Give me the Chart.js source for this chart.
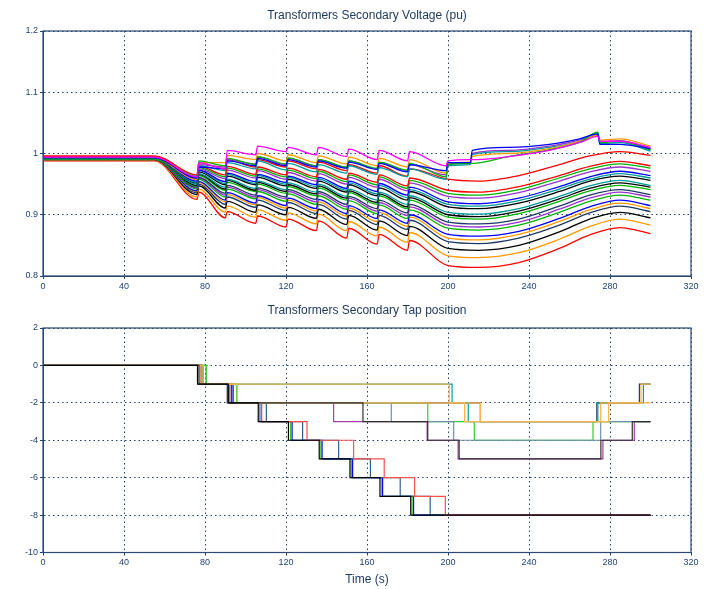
<!DOCTYPE html>
<html><head><meta charset="utf-8">
<script src="https://cdn.jsdelivr.net/npm/chart.js@4.4.0/dist/chart.umd.min.js"></script>
<style>
html,body{margin:0;padding:0;background:#fff;width:715px;height:589px;overflow:hidden}
#c1{position:absolute;left:0;top:0}
#c2{position:absolute;left:0;top:300px}
</style></head><body>
<canvas id="c1" width="715" height="300"></canvas>
<canvas id="c2" width="715" height="289"></canvas>
<script>
// ---------- DATA ----------
const voltTitle = 'Transformers Secondary Voltage (pu)';
const tapTitle = 'Transformers Secondary Tap position';
const xTitle = 'Time (s)';
const vTickLabels = ['0.8','0.9','1','1.1','1.2'];
const tapTickLabels = ['-10','-8','-6','-4','-2','0','2'];
const xTickLabels = ['0','40','80','120','160','200','240','280','320'];

// lower family time grid (s)
const tLow = [0,55,76,77,90,91,105,106,120,121,135,136,150,151,165,166,180,181,200,215,235,255,270,285,300];
const vL1  = [.988,.988,.925,.937,.895,.905,.886,.898,.880,.893,.874,.890,.862,.878,.852,.868,.842,.858,.817,.814,.822,.845,.867,.879,.869];
const vL2  = [.989,.989,.929,.942,.904,.914,.896,.908,.891,.903,.885,.901,.874,.889,.865,.880,.855,.871,.833,.830,.838,.860,.881,.893,.883];
const vL3  = [.990,.990,.933,.947,.911,.922,.904,.916,.900,.912,.894,.909,.884,.899,.875,.890,.866,.881,.845,.842,.850,.872,.893,.904,.895];
const vL4  = [.990,.990,.936,.950,.917,.929,.912,.924,.907,.920,.902,.917,.893,.907,.884,.899,.876,.891,.856,.853,.862,.883,.903,.914,.905];
const vL4b = [.991,.991,.938,.952,.921,.933,.916,.928,.911,.924,.906,.921,.898,.911,.889,.904,.881,.896,.862,.859,.868,.889,.908,.919,.910];
const vL5  = [.991,.991,.939,.954,.924,.936,.919,.931,.915,.927,.910,.925,.902,.915,.894,.908,.886,.900,.868,.865,.873,.894,.913,.924,.915];
const vL6  = [.991,.991,.942,.958,.929,.942,.926,.938,.922,.934,.917,.931,.909,.923,.902,.916,.894,.908,.878,.875,.883,.904,.922,.932,.924];
const vL6b = [.992,.992,.944,.960,.932,.945,.929,.941,.926,.938,.921,.935,.913,.927,.906,.920,.899,.913,.883,.880,.888,.909,.927,.937,.929];
const vL7  = [.992,.992,.945,.961,.935,.948,.932,.944,.929,.941,.925,.938,.917,.930,.910,.924,.903,.917,.888,.885,.893,.914,.932,.941,.933];
const vL8  = [.992,.992,.947,.964,.940,.953,.938,.950,.935,.946,.931,.944,.924,.936,.917,.931,.910,.924,.896,.893,.902,.922,.939,.948,.941];
const vL8b = [.993,.993,.948,.966,.942,.956,.940,.953,.938,.949,.934,.947,.927,.939,.920,.934,.913,.928,.900,.897,.906,.926,.943,.952,.945];
const vL9  = [.993,.993,.950,.967,.945,.958,.943,.955,.941,.952,.937,.950,.930,.942,.924,.937,.917,.931,.904,.901,.910,.930,.947,.956,.948];
const vL10 = [.993,.993,.952,.970,.949,.963,.949,.961,.947,.958,.943,.955,.937,.949,.931,.944,.924,.938,.913,.910,.919,.938,.955,.963,.956];
const vL10b= [.994,.994,.953,.972,.951,.966,.951,.964,.950,.961,.946,.958,.940,.952,.934,.948,.928,.941,.917,.914,.923,.942,.958,.967,.960];
const vL11 = [.994,.994,.955,.973,.954,.968,.954,.966,.953,.963,.949,.961,.943,.955,.938,.951,.932,.945,.921,.918,.927,.946,.962,.971,.964];
const vL12 = [.994,.994,.957,.975,.959,.973,.960,.972,.958,.969,.955,.967,.950,.961,.945,.958,.939,.952,.930,.927,.936,.955,.970,.978,.971];
const vL12b= [.995,.995,.959,.977,.962,.976,.963,.975,.962,.973,.959,.971,.954,.965,.949,.962,.943,.956,.935,.932,.941,.960,.975,.983,.976];
const vL13 = [.995,.995,.960,.979,.965,.979,.966,.978,.965,.976,.962,.974,.958,.968,.953,.965,.947,.960,.940,.937,.946,.964,.979,.987,.980];
const vL14 = [.996,.996,.965,.985,.975,.990,.978,.990,.978,.988,.975,.986,.972,.982,.968,.980,.963,.975,.958,.955,.964,.982,.996,1.003,.997];

// upper family time grid (s)
const tUp = [0,55,76,77,90,91,105,106,120,121,135,136,150,151,165,166,180,181,199,200,211,212,230,250,265,274,275,285,300];
const vU1 = [.994,.994,.962,.985,.975,1.005,.998,1.012,1.003,1.010,.998,1.010,.995,1.007,.990,1.005,.988,1.003,.980,.988,.990,.990,.995,1.005,1.018,1.028,1.020,1.020,1.010];
const vU2 = [.993,.993,.960,.978,.975,.988,.980,.992,.980,.990,.978,.988,.976,.986,.974,.984,.970,.982,.972,.985,.985,1.005,1.010,1.015,1.024,1.032,1.015,1.015,1.008];
const vU3 = [.992,.992,.963,.988,.980,.992,.982,.995,.983,.993,.980,.990,.978,.988,.976,.986,.973,.984,.962,.982,.984,.984,.995,1.006,1.018,1.035,1.018,1.020,1.006];
const vU4 = [.992,.992,.958,.985,.985,.997,.990,1.000,.988,.998,.985,.996,.983,.994,.980,.992,.978,.990,.968,.984,.986,.995,1.000,1.008,1.020,1.030,1.022,1.024,1.012];
const vU5 = [.993,.993,.960,.980,.972,.985,.975,.988,.973,.984,.970,.982,.968,.980,.966,.977,.962,.975,.958,.980,.982,.998,1.003,1.010,1.020,1.034,1.016,1.018,1.004];
const vU6 = [.993,.993,.961,.982,.978,.990,.983,.994,.982,.992,.980,.990,.977,.988,.975,.985,.972,.982,.965,.983,.985,1.000,1.005,1.012,1.022,1.030,1.019,1.021,1.008];

// tap positions: change times (s) and new positions
const stairV = [0,-1,-2,-3,-4,-5,-6,-7,-8,-8];
const tapT1  = [0,76.3,91.5,106.3,121.2,136.4,151.6,166.4,181.6,300];
const tapT2  = [0,78,93,108,130.4,153.4,168.5,183.5,198.7,300];
const tapT3  = [0,79,94,110.3,128.2,146,161.7,176.4,191.2,300];
const tapT4  = [0,77.7,93.3,107.8,123,137.8,152.9,167.7,183,300];
const tapT5  = [0,80.6,95.8,107,122.2,137.2,152.3,167.3,182.3,300];
const tapT6  = [0,78,200.6,208.2,279.3,295.3,300];  const tapV6  = [0,-1,-2,-3,-2,-1,-1];
const tapT7  = [0,79,96,216,275.4,300];              const tapV7  = [0,-1,-2,-3,-2,-2];
const tapT8  = [0,79,202,210,274,296.5,300];         const tapV8  = [0,-1,-2,-3,-2,-1,-1];
const tapT9  = [0,78,93,216,273.5,294.5,300];        const tapV9  = [0,-1,-2,-3,-2,-1,-1];
const tapT10 = [0,78,92,143.5,189.7,205,276.5,292,300]; const tapV10 = [0,-1,-2,-3,-4,-5,-4,-3,-3];
const tapT11 = [0,77,91,158,190,205.5,275.5,291,300];   const tapV11 = [0,-1,-2,-3,-4,-5,-4,-3,-3];
const tapT12 = [0,78,92,172,202.8,275.4,300];        const tapV12 = [0,-1,-2,-3,-4,-3,-3];
const tapT13 = [0,80.6,95.8,190,213,271.6,300];      const tapV13 = [0,-1,-2,-3,-4,-3,-3];

// ---------- RENDER ----------
const F = '"Liberation Sans", Arial, sans-serif';
const NAVY = '#1f3f6f';
Chart.defaults.font.family = F;

function pts(ts, vs){ return ts.map((t,i)=>({x:t, y:vs[i]})); }

const frame = {
  id:'frame',
  afterDraw(chart, args, o){
    const {ctx, chartArea:a} = chart;
    ctx.save();
    ctx.strokeStyle = '#2a4a75'; ctx.lineWidth = 1.2; ctx.setLineDash([]);
    ctx.strokeRect(a.left, a.top, a.right-a.left, a.bottom-a.top);
    ctx.fillStyle = '#1f3a60';
    ctx.font = '12px ' + F;
    ctx.textAlign = 'center'; ctx.textBaseline = 'middle';
    ctx.fillText(o.title, (a.left+a.right)/2, o.titleY);
    if (o.xTitle) ctx.fillText(o.xTitle, (a.left+a.right)/2, o.xTitleY);
    ctx.restore();
  }
};

function xScale(h){
  return {type:'linear', min:0, max:320,
    ticks:{stepSize:40, autoSkip:false, maxRotation:0, padding:2, color:NAVY, font:{size:9},
      callback:(v,i)=>xTickLabels[i]},
    grid:{color:NAVY, lineWidth:1, tickLength:3, tickColor:NAVY},
    border:{display:true, color:NAVY, width:1, dash:[1.5,3]},
    afterFit(s){ s.height = h; }};
}
function yScale(min,max,step,labels){
  return {type:'linear', min, max,
    ticks:{stepSize:step, autoSkip:false, padding:2, color:NAVY, font:{size:9},
      callback:(v,i)=>labels[i]},
    grid:{color:NAVY, lineWidth:1, tickLength:3, tickColor:NAVY},
    border:{display:true, color:NAVY, width:1, dash:[1.5,3]},
    afterFit(s){ s.width = 43; }};
}

const vSeries = [
  [tUp, vU1, '#ff00ff'], [tUp, vU2, '#0000ff'], [tUp, vU3, '#00b400'],
  [tUp, vU4, '#ff9900'], [tUp, vU5, '#009a9a'], [tUp, vU6, '#9933cc'],
  [tLow, vL14, '#ff0000'], [tLow, vL13, '#ff0000'], [tLow, vL12b, '#00b400'],
  [tLow, vL12, '#9933cc'], [tLow, vL11, '#0000ff'], [tLow, vL10b, '#009a9a'],
  [tLow, vL10, '#000000'], [tLow, vL9, '#009a9a'], [tLow, vL8b, '#000000'],
  [tLow, vL8, '#00b400'], [tLow, vL7, '#1f3864'], [tLow, vL6b, '#9933cc'],
  [tLow, vL6, '#00b400'], [tLow, vL5, '#0000ff'], [tLow, vL4b, '#ff9900'],
  [tLow, vL4, '#1f3864'], [tLow, vL3, '#000000'], [tLow, vL2, '#ff9900'],
  [tLow, vL1, '#ff0000']
];

new Chart(document.getElementById('c1'), {
  type:'line',
  data:{datasets: vSeries.map(([t,v,c])=>({data:pts(t,v), borderColor:c, borderWidth:1.3,
    pointRadius:0, fill:false, cubicInterpolationMode:'monotone'}))},
  options:{responsive:false, animation:false, devicePixelRatio:1,
    layout:{padding:{top:31, right:24, bottom:4, left:0}},
    plugins:{legend:{display:false}, tooltip:{enabled:false},
      frame:{title:voltTitle, titleY:16}},
    scales:{x:xScale(20), y:yScale(0.8,1.2,0.1,vTickLabels)}},
  plugins:[frame]
});

const tSeries = [
  [tapT1, stairV, '#000000'], [tapT11, tapV11, '#303030'], [tapT6, tapV6, '#ffb347'],
  [tapT7, tapV7, '#ffb347'], [tapT12, tapV12, '#6f8fb0'], [tapT10, tapV10, '#a040a0'],
  [tapT13, tapV13, '#33cc33'], [tapT8, tapV8, '#00a0a0'], [tapT9, tapV9, '#1f3864'],
  [tapT2, stairV, '#ff5050'], [tapT3, stairV, '#2f5f8f'], [tapT4, stairV, '#0000ff'],
  [tapT5, stairV, '#33cc33']
];

new Chart(document.getElementById('c2'), {
  type:'line',
  data:{datasets: tSeries.map(([t,v,c])=>({data:pts(t,v), borderColor:c, borderWidth:1.2,
    pointRadius:0, fill:false, stepped:true}))},
  options:{responsive:false, animation:false, devicePixelRatio:1,
    layout:{padding:{top:28, right:24, bottom:3, left:0}},
    plugins:{legend:{display:false}, tooltip:{enabled:false},
      frame:{title:tapTitle, titleY:11, xTitle:xTitle, xTitleY:280}},
    scales:{x:xScale(33.5), y:yScale(-10,2,2,tapTickLabels)}},
  plugins:[frame]
});
</script></body></html>
